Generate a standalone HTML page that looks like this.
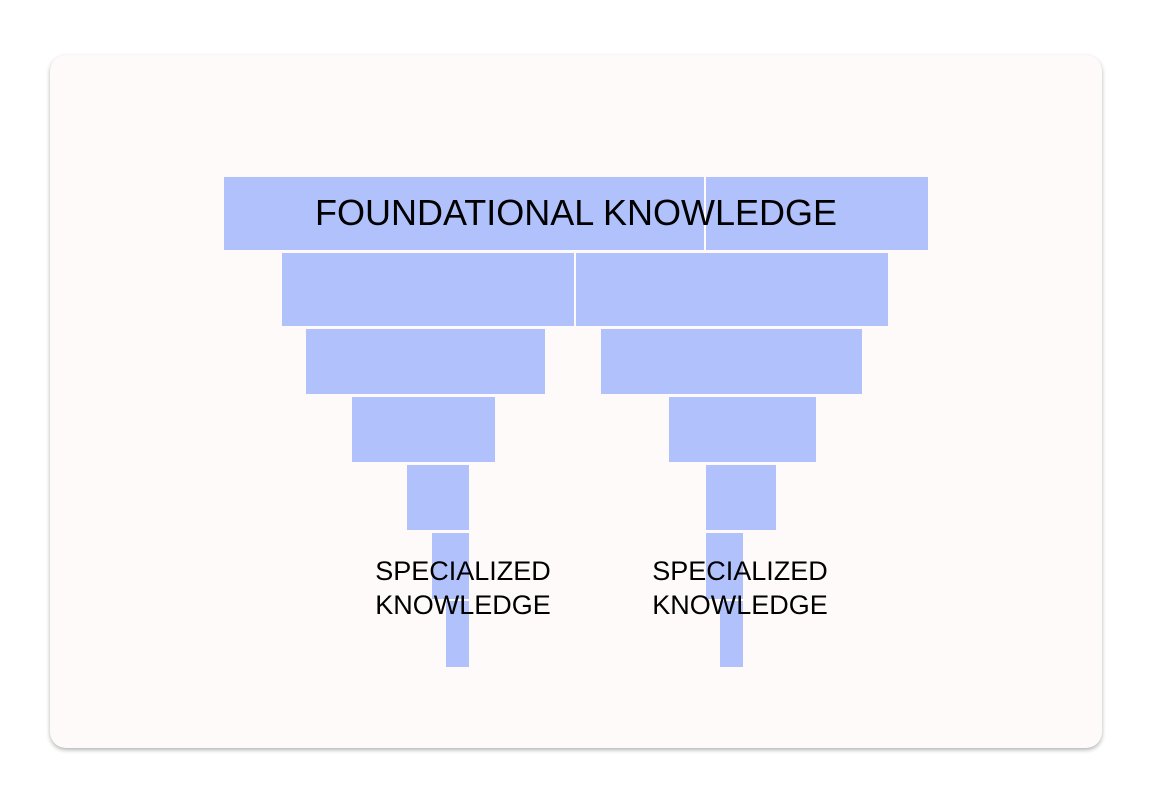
<!DOCTYPE html>
<html><head><meta charset="utf-8"><style>
body{margin:0;width:1152px;height:800px;background:#fff;position:relative;overflow:hidden;font-family:"Liberation Sans",sans-serif}
.card{position:absolute;left:50px;top:55px;width:1052px;height:693px;background:#fefaf9;border-radius:16px;box-shadow:0 2px 4px rgba(0,0,0,.3)}
.r{position:absolute;background:#b0c1fc}
.t{position:absolute;color:#000;text-align:center;white-space:nowrap}
</style></head><body>
<div class="card"></div>
<div class="r" style="left:224px;top:177px;width:480px;height:73px"></div>
<div class="r" style="left:706px;top:177px;width:222px;height:73px"></div>
<div class="r" style="left:282px;top:253px;width:292px;height:73px"></div>
<div class="r" style="left:576px;top:253px;width:312px;height:73px"></div>
<div class="r" style="left:306px;top:329px;width:239px;height:65px"></div>
<div class="r" style="left:601px;top:329px;width:261px;height:65px"></div>
<div class="r" style="left:352px;top:397px;width:143px;height:65px"></div>
<div class="r" style="left:669px;top:397px;width:147px;height:65px"></div>
<div class="r" style="left:407px;top:465px;width:62px;height:65px"></div>
<div class="r" style="left:706px;top:465px;width:70px;height:65px"></div>
<div class="r" style="left:432px;top:533px;width:37px;height:66px"></div>
<div class="r" style="left:706px;top:533px;width:37px;height:66px"></div>
<div class="r" style="left:446px;top:601px;width:23px;height:66px"></div>
<div class="r" style="left:720px;top:601px;width:23px;height:66px"></div>
<div class="t" style="left:276px;width:600px;top:191px;font-size:36px;line-height:44px">FOUNDATIONAL KNOWLEDGE</div>
<div class="t" style="left:363px;width:200px;top:554px;font-size:27px;line-height:34px">SPECIALIZED<br>KNOWLEDGE</div>
<div class="t" style="left:640px;width:200px;top:554px;font-size:27px;line-height:34px">SPECIALIZED<br>KNOWLEDGE</div>
</body></html>
